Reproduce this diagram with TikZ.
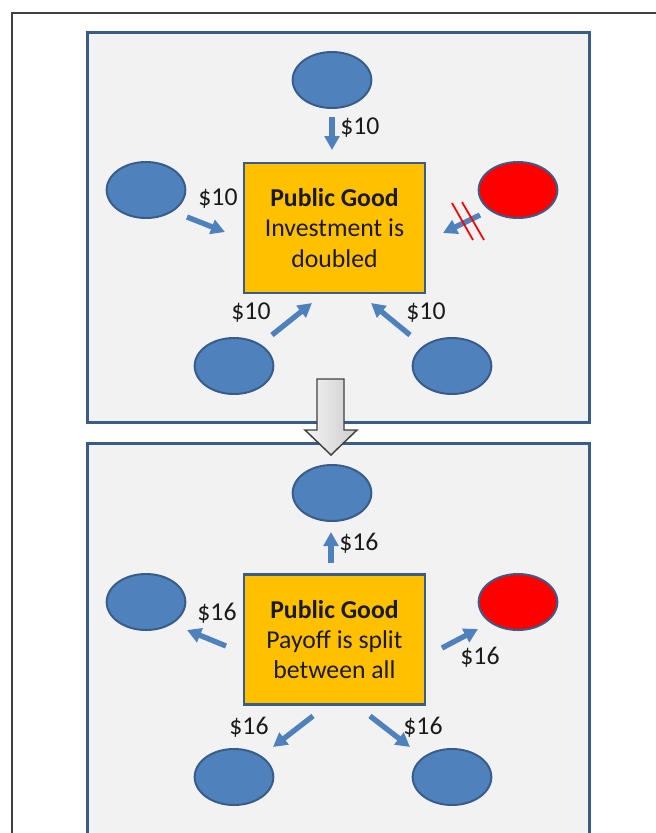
\documentclass[tikz,border=0pt]{standalone}
\usepackage{fontspec}
\setmainfont{Carlito}
\usetikzlibrary{shapes.geometric,arrows.meta}
\definecolor{pfill}{HTML}{F2F2F2}
\definecolor{pborder}{HTML}{385D8A}
\definecolor{pblue}{HTML}{4F81BD}
\definecolor{porange}{HTML}{FFC000}
\definecolor{pred}{HTML}{FF0000}
\definecolor{framegray}{HTML}{404040}
\definecolor{txt}{HTML}{1A1A1A}
\begin{document}
\begin{tikzpicture}[x=0.75pt,y=-0.75pt,
  panel/.style={draw=pborder, fill=pfill, line width=2.25pt},
  player/.style={ellipse, draw=pborder, fill=pblue, line width=1.5pt, minimum width=59pt, minimum height=42pt, inner sep=0pt},
  defector/.style={player, fill=pred},
  pgbox/.style={draw=pborder, fill=porange, line width=2.1pt, minimum width=135.75pt, minimum height=97.5pt, align=center, inner sep=0pt, text=txt, font=\fontsize{19.3}{22.8}\selectfont},
  flow/.style={draw=pblue, line width=4pt, -{Triangle[length=10.5pt,width=11pt]}},
  amount/.style={font=\fontsize{19.3}{22}\selectfont, inner sep=0pt, text=txt},
  cut/.style={draw=pred, line width=1.3pt}
]
\useasboundingbox (0,0) rectangle (656,833);
\clip (0,0) rectangle (656,833);
\fill[white] (0,0) rectangle (656,833);
% outer frame
\draw[framegray, line width=0.9pt] (12,900) -- (12,13) -- (700,13);

% panels
\path[panel] (87,32) rectangle (589,422);
\path[panel] (87,443) rectangle (589,900);

% ---------- panel 1 ----------
\node[pgbox] (box1) at (334.5,228) {\textbf{Public Good}\\Investment is\\doubled};
\node[player] (a1) at (332,80) {};
\node[player] (b1) at (146,190) {};
\node[defector] (c1) at (518,190) {};
\node[player] (d1) at (234,366) {};
\node[player] (e1) at (452,366) {};

\coordinate (a1s) at (332,117); \coordinate (a1t) at (332,150);
\coordinate (b1s) at (187,217); \coordinate (b1t) at (225,232);
\coordinate (c1s) at (480,215); \coordinate (c1t) at (443,233);
\coordinate (d1s) at (272,335); \coordinate (d1t) at (312,303);
\coordinate (e1s) at (410,335); \coordinate (e1t) at (371,303);
\draw[flow] (a1s) -- (a1t);
\draw[flow] (b1s) -- (b1t);
\draw[flow] (c1s) -- (c1t);
\draw[flow] (d1s) -- (d1t);
\draw[flow] (e1s) -- (e1t);

\coordinate (x1a) at (452,203); \coordinate (x1b) at (473,240);
\coordinate (x2a) at (462,202); \coordinate (x2b) at (484,240);
\draw[cut] (x1a) -- (x1b);
\draw[cut] (x2a) -- (x2b);

\node[amount, anchor=west] (la1) at (340,128) {\$10};
\node[amount] (lb1) at (218,199) {\$10};
\node[amount] (ld1) at (251,313) {\$10};
\node[amount] (le1) at (426,313) {\$10};

% ---------- panel 2 ----------
\node[pgbox] (box2) at (334.5,639.5) {\textbf{Public Good}\\Payoff is split\\between all};
\node[player] (a2) at (332,493) {};
\node[player] (b2) at (146,602) {};
\node[defector] (c2) at (518,602) {};
\node[player] (d2) at (234,777) {};
\node[player] (e2) at (452,777) {};

\coordinate (a2s) at (331,563); \coordinate (a2t) at (331,532);
\coordinate (b2s) at (226,646); \coordinate (b2t) at (187,630);
\coordinate (c2s) at (442,648); \coordinate (c2t) at (478,629);
\coordinate (d2s) at (313,716); \coordinate (d2t) at (273,747);
\coordinate (e2s) at (370,716); \coordinate (e2t) at (410,747);
\draw[flow] (a2s) -- (a2t);
\draw[flow] (b2s) -- (b2t);
\draw[flow] (c2s) -- (c2t);
\draw[flow] (d2s) -- (d2t);
\draw[flow] (e2s) -- (e2t);

\node[amount, anchor=west] (la2) at (339,543) {\$16};
\node[amount] (lb2) at (217,613) {\$16};
\node[amount] (lc2) at (480,657) {\$16};
\node[amount] (ld2) at (249,727) {\$16};
\node[amount] (le2) at (423,727) {\$16};

% ---------- big gray arrow ----------
\draw[draw=framegray, line width=1.1pt, line join=miter, left color=gray!8, right color=gray!40]
  (317,379) -- (344,379) -- (344,430) -- (357,430) -- (331,455) -- (305,430) -- (317,430) -- cycle;
\end{tikzpicture}
\end{document}
